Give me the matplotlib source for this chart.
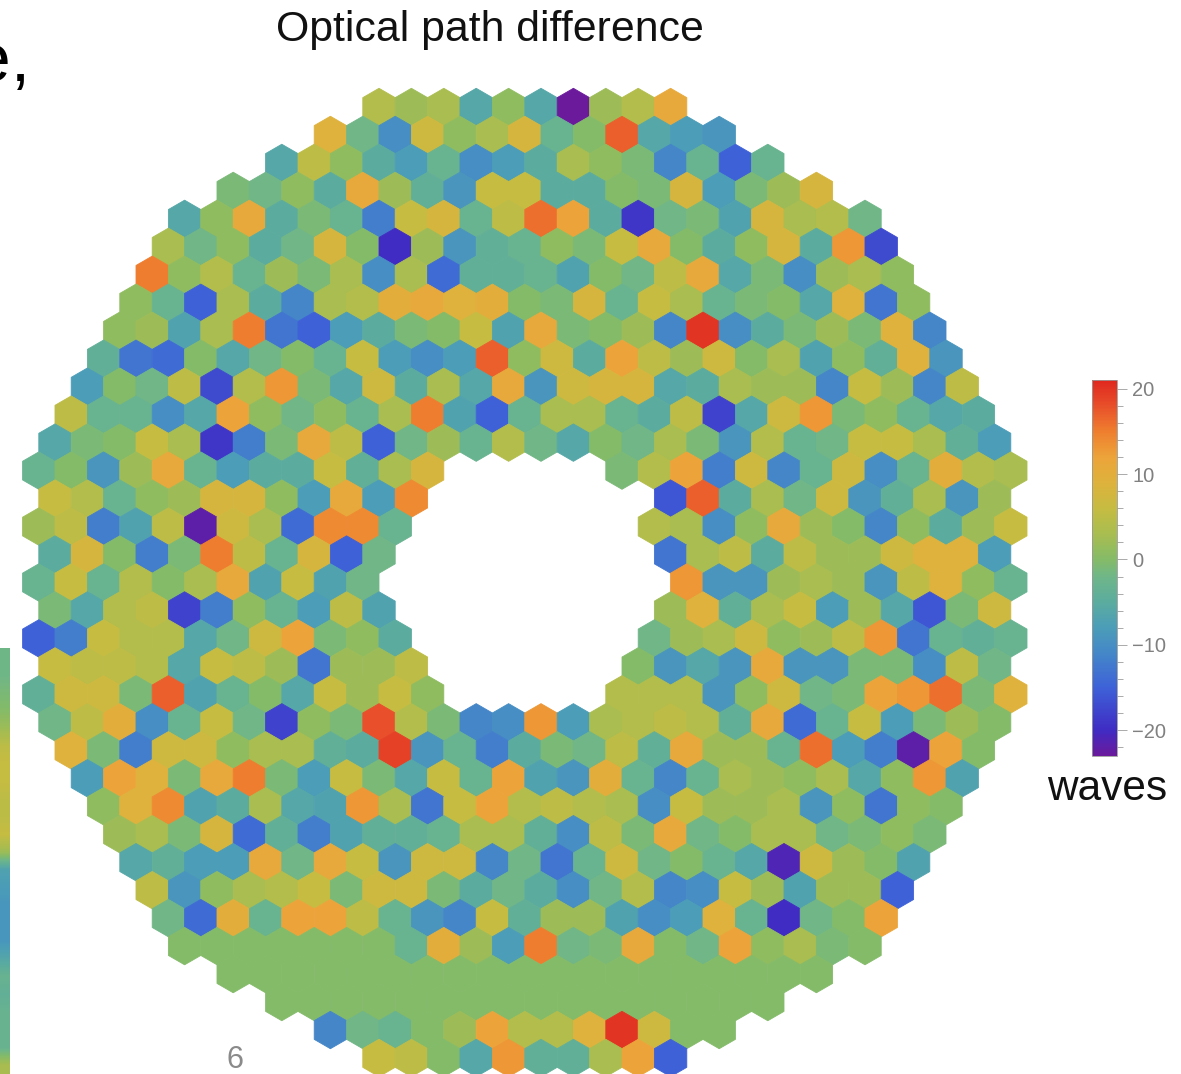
import numpy as np
import matplotlib
matplotlib.use("Agg")
import matplotlib.pyplot as plt
from matplotlib.collections import PolyCollection
from matplotlib.colors import LinearSegmentedColormap, Normalize
from matplotlib.cm import ScalarMappable

plt.rcParams["font.family"] = ["Liberation Sans", "DejaVu Sans"]

# optical path difference per segment, in waves
_ = None
r00 = [_,_,_,_,_,_,_,_,_,_, 4,2,3,-6,1,-6,-23,2,4,11, _,_,_,_,_,_,_,_,_,_]
r01 = [_,_,_,_,_,_,_,_,_, 9,-2,-10,7,1,3,8,-3,0,17,-6,-8,-9, _,_,_,_,_,_,_,_,_]
r02 = [_,_,_,_,_,_,_, -6,5,1,-5,-8,-3,-10,-8,-5,3,1,-1,-11,-3,-15,-3, _,_,_,_,_,_,_]
r03 = [_,_,_,_,_,_, -1,-2,1,-5,11,2,-4,-9,6,6,-5,-5,0,-1,8,-8,-1,2,8, _,_,_,_,_,_]
r04 = [_,_,_,_, -6,1,11,-5,-1,-3,-12,6,8,-3,5,16,12,-5,-19,-2,-1,-7,8,3,4,-2, _,_,_,_]
r05 = [_,_,_,_, 3,-2,1,-5,-2,8,0,-20,2,-9,-4,-3,1,-1,6,11,0,-5,1,8,-5,13,-17, _,_,_,_]
r06 = [_,_,_, 15,1,4,-3,2,-1,3,-10,3,-14,-4,-4,-3,-7,0,-2,5,11,-6,-1,-10,2,3,1, _,_,_]
r07 = [_,_,_, 1,-3,-15,3,-5,-11,3,4,10,11,9,10,0,-1,8,-3,6,3,-3,-1,0,-6,9,-13,1, _,_,_]
r08 = [_,_, 1,2,-7,3,15,-13,-15,-8,-5,-1,0,6,-7,11,-1,0,2,-11,20,-10,-5,-1,2,-1,9,-11, _,_]
r09 = [_,_, -4,-13,-14,0,-6,-2,0,-3,6,-8,-10,-8,17,1,7,-5,12,5,2,7,0,3,-7,1,-4,9,-9, _,_]
r10 = [_, -8,0,-2,5,-17,4,13,-1,-6,7,-5,3,-6,11,-9,7,8,8,-6,-5,3,2,2,-11,6,2,-11,5, _]
r11 = [_, 5,-3,-3,-10,-6,12,1,-2,1,-3,3,15,-7,-15,-3,3,3,-3,-5,5,-18,-6,7,13,-1,1,-3,-6,-5, _]
r12 = [-6,-1,0,6,3,-19,-12,-1,11,5,-15,-2,2,-3,4,-2,-6,0,-2,3,-1,-9,4,-3,-2,6,6,3,-4,-8]
r13 = [-3,0,-9,2,11,-3,-8,-5,-5,6,-4,3,8, _,_,_,_,_, -1,4,12,-12,7,-11,-3,7,-10,-3,10,4,3]
r14 = [6,4,-3,1,2,8,8,1,-8,11,-8,14, _,_,_,_,_,_,_, -16,17,-5,3,-2,7,-9,-4,3,-9,2]
r15 = [2,5,-12,-7,5,-22,7,3,-14,14,14,-3, _,_,_,_,_,_,_, 4,3,-10,1,11,2,0,-11,1,-5,2,6]
r16 = [-5,8,0,-12,-1,15,5,-3,8,-15,-2, _,_,_,_,_,_,_,_, -13,3,5,-5,5,2,2,7,9,9,-8]
r17 = [-3,6,-3,4,0,3,11,-7,6,-7,-2, _,_,_,_,_,_,_,_,_, 13,-9,-9,2,3,2,-9,5,9,1,-3]
r18 = [-1,-6,4,5,-18,-12,1,-3,-8,5,-7, _,_,_,_,_,_,_,_, 2,9,-4,3,6,-8,2,-6,-16,-1,7]
r19 = [-15,-12,6,4,4,-6,-2,7,12,-1,1,-5, _,_,_,_,_,_,_, -2,2,3,7,1,2,5,13,-13,-3,-4,-3]
r20 = [6,5,5,4,-6,6,5,2,-13,2,2,5, _,_,_,_,_,_, 0,-9,-6,-9,11,-9,-9,-1,-1,-10,5,-2]
r21 = [-4,7,7,-1,17,-7,-3,0,-6,6,2,6,1, _,_,_,_,_, 4,4,4,-9,1,7,-2,-1,12,13,16,-1,9]
r22 = [-2,5,10,-10,-3,6,-2,-18,1,-1,18,4,-1,-11,-10,13,-8,3,4,5,4,-4,11,-14,-3,6,-8,-1,2,0]
r23 = [_, 9,-1,-12,7,7,1,3,3,-4,-5,19,-9,-3,-12,-5,-1,-2,5,-4,11,2,2,-3,16,-8,-12,-22,12,0, _]
r24 = [_, -8,12,9,-1,11,15,-1,-8,6,-1,-6,6,-3,12,-7,-9,10,-3,-11,-3,3,2,1,3,-6,1,13,-7, _]
r25 = [_,_, 1,9,14,-7,-5,3,-6,-7,13,3,-13,6,12,4,5,4,3,-10,6,2,2,3,-9,1,-13,1,0, _,_]
r26 = [_,_, 2,3,-1,8,-14,-4,-12,-7,-4,-4,-3,3,3,-4,-10,5,-1,11,-2,0,3,3,-2,-1,1,-1, _,_]
r27 = [_,_,_, -6,-4,-8,-8,11,-2,11,6,-9,7,7,-11,-2,-13,-3,7,-2,0,-3,-6,-21,7,2,0,-7, _,_,_]
r28 = [_,_,_, 5,-9,1,3,4,6,-1,7,7,-1,-5,-2,-5,-10,-2,4,-11,-10,6,2,-7,2,2,-15, _,_,_]
r29 = [_,_,_,_, -2,-14,10,-3,12,12,5,-3,-9,-11,6,-4,2,2,-7,-10,-8,9,-3,-20,-2,0,12, _,_,_,_]
r30 = [_,_,_,_, 0,0,0,0,0,0,0,-3,10,2,-8,15,-2,-1,11,0,-2,12,1,3,-1,0, _,_,_,_]
r31 = [_,_,_,_,_,_, 0,0,0,0,0,0,0,0,0,0,0,0,0,0,0,0,0,0,0, _,_,_,_,_,_]
r32 = [_,_,_,_,_,_,_, 0,0,0,0,0,0,0,0,0,0,0,0,0,0,0,0, _,_,_,_,_,_,_]
r33 = [_,_,_,_,_,_,_,_,_, -11,-2,-3,0,2,12,4,4,9,20,7,0,0, _,_,_,_,_,_,_,_,_]
r34 = [_,_,_,_,_,_,_,_,_,_, 6,5,0,-6,13,-4,-4,3,12,-15, _,_,_,_,_,_,_,_,_,_]
opd_rows = [r00, r01, r02, r03, r04, r05, r06, r07, r08, r09, r10, r11,
            r12, r13, r14, r15, r16, r17, r18, r19, r20, r21, r22, r23,
            r24, r25, r26, r27, r28, r29, r30, r31, r32, r33, r34]

# scale of the colour bar
cbar_min = -23
cbar_max = 21
cbar_ticks = [-20, -10, 0, 10, 20]
cbar_minor = [-22, -18, -16, -14, -12, -8, -6, -4, -2, 2, 4, 6, 8, 12, 14, 16, 18]

# strip of the neighbouring picture at the left edge, top to bottom
strip_values = [-2, -2, -1, 0, 2, 5, 6, 6, 5, 5, 6, 2, -7, -8, -9, -9, -9, -6, -3, -4, -3, -3, -3, 3]

color_stops = [(-23, "#6b1a9c"), (-20, "#3f2cc4"), (-15, "#3e62d8"), (-11, "#4487c8"),
               (-8, "#4b9db8"), (-5, "#5bac9f"), (-2, "#6fb688"), (0, "#85bb68"),
               (3, "#a8bd50"), (6, "#c6bc42"), (9, "#deb23c"), (12, "#eca43a"),
               (15, "#ef7f2f"), (18, "#e8502a"), (21, "#e0281f")]

W, H = 1181, 1074
fig = plt.figure(figsize=(W / 100, H / 100), dpi=100)
ax = fig.add_axes([0, 0, 1, 1])
ax.set_xlim(0, W)
ax.set_ylim(H, 0)
ax.axis("off")

norm = Normalize(cbar_min, cbar_max)
cmap = LinearSegmentedColormap.from_list(
    "opd", [((v - cbar_min) / (cbar_max - cbar_min), c) for v, c in color_stops])

# hexagon layout, pixels
pitch = 32.4
row_step = 27.97
radius = pitch / np.sqrt(3)
xc = 524.8
y0 = 107
angles = np.radians([90, 150, 210, 270, 330, 30])
hex_x = radius * np.cos(angles)
hex_y = radius * np.sin(angles)

polys = []
values = []
for r, row in enumerate(opd_rows):
    for i, v in enumerate(row):
        if v is None:
            continue
        cx = xc + pitch * (i - (len(row) - 1) / 2)
        cy = y0 + row_step * r
        polys.append(np.column_stack([cx + hex_x, cy + hex_y]))
        values.append(v)

hexes = PolyCollection(polys, array=np.array(values, dtype=float), cmap=cmap, norm=norm,
                       edgecolors="face", linewidths=0.6)
ax.add_collection(hexes)

# left strip
strip = np.array(strip_values, dtype=float).reshape(-1, 1)
ax.imshow(strip, cmap=cmap, norm=norm, extent=(0, 10, 1074, 648), aspect="auto",
          interpolation="bilinear", zorder=1)
ax.set_xlim(0, W)
ax.set_ylim(H, 0)

ax.text(490, 41, "Optical path difference", ha="center", va="baseline", fontsize=30.8, color="#111111")
ax.text(30, 81, "e,", ha="right", va="baseline", fontsize=50, color="black")
ax.text(1107.5, 800, "waves", ha="center", va="baseline", fontsize=30.5, color="#111111")
ax.text(235, 1068, "6", ha="center", va="baseline", fontsize=22, color="#8a8a8a")

# colour bar
cax = fig.add_axes([1092 / W, 1 - 756 / H, 25 / W, 376 / H])
cb = fig.colorbar(ScalarMappable(norm=norm, cmap=cmap), cax=cax)
cb.set_ticks(cbar_ticks)
cb.set_ticks(cbar_minor, minor=True)
cb.set_ticklabels(["\u221220", "\u221210", "0", "10", "20"])
cb.ax.tick_params(which="major", length=7, width=0.7, color="#aaaaaa", labelsize=14.5,
                  labelcolor="#808080", pad=4)
cb.ax.tick_params(which="minor", length=4, width=0.7, color="#aaaaaa")
cb.outline.set_edgecolor("#999999")
cb.outline.set_linewidth(0.6)

fig.savefig("out.png", dpi=100)
